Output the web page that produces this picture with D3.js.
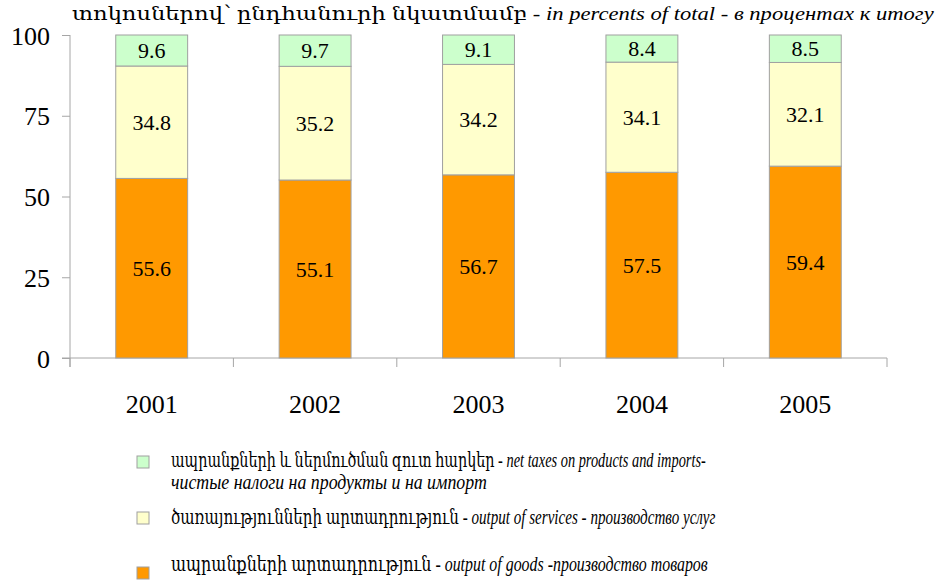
<!DOCTYPE html>
<html>
<head>
<meta charset="utf-8">
<script src="https://cdn.jsdelivr.net/npm/d3@7"></script>
<style>
  body { margin: 0; background: #fff; }
  svg text { font-family: "Liberation Serif", "Times New Roman", serif; fill: #000; }
  .it { font-style: italic; }
  .arm { font-family: "Noto Serif", "DejaVu Serif", serif; }
</style>
</head>
<body>
<div id="chart"></div>
<script>
const years = ["2001", "2002", "2003", "2004", "2005"];
const goods = [55.6, 55.1, 56.7, 57.5, 59.4];
const services = [34.8, 35.2, 34.2, 34.1, 32.1];
const taxes = [9.6, 9.7, 9.1, 8.4, 8.5];
const yTicks = [0, 25, 50, 75, 100];

const seriesKeys = ["goods", "services", "taxes"];
const colors = {goods: "#FF9900", services: "#FFFFCC", taxes: "#CCFFCC"};
const serif = "'Liberation Serif', 'Times New Roman', serif";

const width = 945, height = 582;
const svg = d3.select("#chart").append("svg")
  .attr("width", width)
  .attr("height", height);

const x = d3.scaleBand().domain(years).range([70, 887]).paddingInner(0.56).paddingOuter(0.28);
const y = d3.scaleLinear().domain([0, 100]).range([358, 35]);

const table = years.map((yr, i) => ({year: yr, goods: goods[i], services: services[i], taxes: taxes[i]}));
const stacked = d3.stack().keys(seriesKeys)(table);

// mixed upright / italic line, squeezed horizontally to the wanted width
function fitLine(parent, parts, x0, y0, size, w) {
  const g = parent.append("g");
  const t = g.append("text").attr("x", 0).attr("y", 0)
    .style("font-size", size + "px");
  parts.forEach(p => {
    let cls = p[1] ? "it" : "";
    if (/[\u0530-\u058F]/.test(p[0])) cls += " arm";
    t.append("tspan").attr("class", cls.trim() || null).text(p[0]);
  });
  const nat = t.node().getComputedTextLength();
  g.attr("transform", "translate(" + x0 + "," + y0 + ") scale(" + (w / nat) + ",1)");
  return g;
}

// title
fitLine(svg, [["տոկոսներով՝ ընդհանուրի նկատմամբ", 0], [" - ", 0], ["in percents of  total", 1], [" - ", 0], ["в процентах к итогу", 1]], 72, 20, 19, 862);

// y axis
const gy = svg.append("g").attr("transform", "translate(70,0)")
  .call(d3.axisLeft(y).tickValues(yTicks).tickSize(8).tickPadding(12));
gy.select(".domain").attr("stroke", "#a6a6a6").attr("d", "M0," + y(100) + "V" + (y(0) + 9));
gy.selectAll(".tick line").attr("stroke", "#a6a6a6");
gy.selectAll(".tick text").style("font-size", "26px").style("font-family", serif).attr("dy", "0.35em");

// x axis
const gx = svg.append("g").attr("transform", "translate(0," + y(0) + ")");
gx.append("line").attr("x1", 62).attr("x2", 887).attr("stroke", "#a6a6a6");
gx.selectAll(".sep").data(d3.range(years.length + 1)).enter().append("line")
  .attr("x1", i => x.range()[0] + i * x.step())
  .attr("x2", i => x.range()[0] + i * x.step())
  .attr("y1", 0).attr("y2", 9).attr("stroke", "#a6a6a6");
gx.selectAll(".yr").data(years).enter().append("text")
  .attr("x", d => x(d) + x.bandwidth() / 2)
  .attr("y", 55)
  .attr("text-anchor", "middle")
  .style("font-size", "26px").style("font-family", serif)
  .text(d => d);

// bars
const layers = svg.selectAll(".layer").data(stacked).enter().append("g")
  .attr("fill", d => colors[d.key]);
layers.selectAll("rect").data(d => d).enter().append("rect")
  .attr("x", d => x(d.data.year))
  .attr("y", d => y(d[1]))
  .attr("width", x.bandwidth())
  .attr("height", d => y(d[0]) - y(d[1]))
  .attr("stroke", "#a0a0a0").attr("stroke-width", 1);
layers.selectAll(".lbl").data(d => d.map(v => Object.assign(v, {key: d.key}))).enter().append("text")
  .attr("x", d => x(d.data.year) + x.bandwidth() / 2)
  .attr("y", d => (y(d[0]) + y(d[1])) / 2)
  .attr("dy", "0.35em")
  .attr("text-anchor", "middle")
  .style("font-size", "22px").style("font-family", serif)
  .style("fill", "#000")
  .text(d => d.data[d.key].toFixed(1));

// legend
const legend = [
  {key: "taxes", y: 462, lines: [
    {y: 467, len: 535, parts: [["ապրանքների և ներմուծման զուտ հարկեր", 0], [" - ", 0], ["net taxes on products and imports-", 1]]},
    {y: 489, len: 316, parts: [["чистые налоги на продукты и на импорт", 1]]}
  ]},
  {key: "services", y: 518, lines: [
    {y: 524, len: 545, parts: [["ծառայությունների արտադրություն", 0], [" - ", 0], ["output of services", 1], [" - ", 0], ["производство услуг", 1]]}
  ]},
  {key: "goods", y: 573, lines: [
    {y: 571, len: 537, parts: [["ապրանքների արտադրություն", 0], [" - ", 0], ["output of goods", 1], [" -", 0], ["производство товаров", 1]]}
  ]}
];
const lg = svg.append("g");
legend.forEach(item => {
  lg.append("rect")
    .attr("x", 137).attr("y", item.y - 6)
    .attr("width", 12).attr("height", 12)
    .attr("fill", colors[item.key])
    .attr("stroke", "#a0a0a0");
  item.lines.forEach(ln => fitLine(lg, ln.parts, 171, ln.y, 21, ln.len));
});
</script>
</body>
</html>
